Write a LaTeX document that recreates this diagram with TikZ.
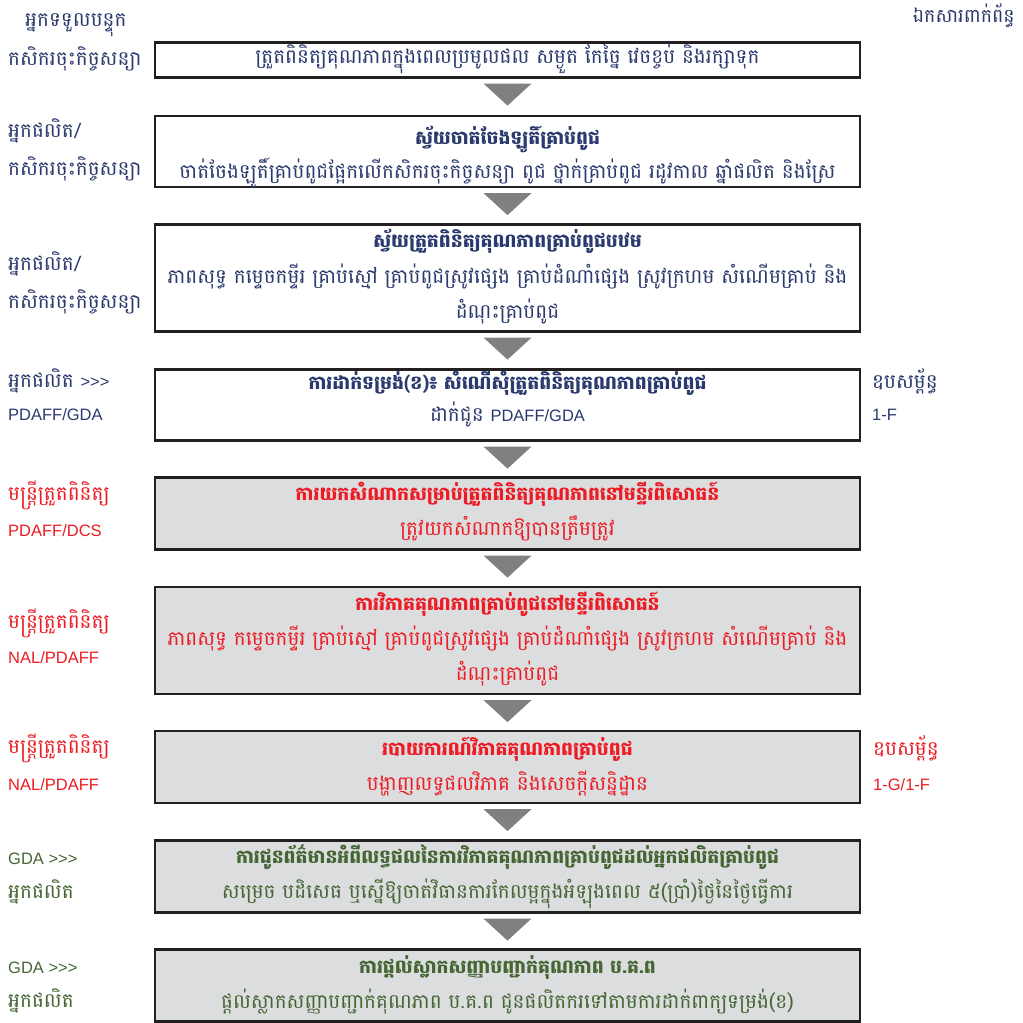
\documentclass[tikz,border=0pt]{standalone}
\usepackage{fontspec}
\setmainfont{Liberation Sans}
\newfontfamily\kh[Script=Khmer]{Battambang}
\newfontfamily\lat{Liberation Sans}
\usetikzlibrary{calc}
\definecolor{navy}{HTML}{2B3A6E}
\definecolor{redtxt}{HTML}{ED1C24}
\definecolor{greentxt}{HTML}{456633}
\definecolor{boxgray}{HTML}{DCDDDF}
\definecolor{boxline}{HTML}{231F20}
\definecolor{arrowgray}{HTML}{808080}
\tikzset{
  stepbox/.style={draw=boxline, line width=2.2pt, minimum width=705pt, inner sep=0pt},
  grayfill/.style={fill=boxgray},
  khtxt/.style={anchor=base, inner sep=0pt, font=\kh\fontsize{20}{24}\selectfont},
  khbold/.style={anchor=base, inner sep=0pt, font=\kh\bfseries\fontsize{18.8}{24}\selectfont},
  lab/.style={anchor=base west, inner sep=0pt, font=\kh\fontsize{20}{24}\selectfont},
  latlab/.style={anchor=base west, inner sep=0pt, font=\lat\fontsize{16.5}{20}\selectfont},
  arrowfill/.style={fill=arrowgray}
}
\newcommand\downarrowbetween[1]{\fill[arrowfill] ($(#1.south)+(-24,5)$) -- ($(#1.south)+(24,5)$) -- ($(#1.south)+(0,27)$) -- cycle;}
\begin{document}
\begin{tikzpicture}[x=1pt,y=-1pt]
\useasboundingbox[fill=white] (0,0) rectangle (1023,1023);
% headers
\node[lab, text=navy] (hl) at (25,26) {អ្នកទទួលបន្ទុក};
\node[anchor=base east, inner sep=0pt, font=\kh\fontsize{19}{24}\selectfont, text=navy] (hr) at (1015,22) {ឯកសារពាក់ព័ន្ធ};
% boxes
\node[stepbox, minimum height=35pt] (b1) at (507.5,60) {};
\node[stepbox, minimum height=71pt] (b2) at (507.5,151.5) {};
\node[stepbox, minimum height=107pt] (b3) at (507.5,278) {};
\node[stepbox, minimum height=71pt] (b4) at (507.5,405) {};
\node[stepbox, grayfill, minimum height=72pt] (b5) at (507.5,513.5) {};
\node[stepbox, grayfill, minimum height=107pt] (b6) at (507.5,640.5) {};
\node[stepbox, grayfill, minimum height=72pt] (b7) at (507.5,767) {};
\node[stepbox, grayfill, minimum height=72pt] (b8) at (507.5,876.5) {};
\node[stepbox, grayfill, minimum height=72pt] (b9) at (507.5,985.5) {};
% arrows
\downarrowbetween{b1}
\downarrowbetween{b2}
\downarrowbetween{b3}
\downarrowbetween{b4}
\downarrowbetween{b5}
\downarrowbetween{b6}
\downarrowbetween{b7}
\downarrowbetween{b8}
% box texts
\node[khtxt, text=navy] (t1) at (507.5,63) {ត្រួតពិនិត្យគុណភាពក្នុងពេលប្រមូលផល សម្ងួត កែច្នៃ វេចខ្ចប់ និងរក្សាទុក};
\node[khbold, text=navy] (t2a) at (507.5,144) {ស្វ័យចាត់ចែងឡូតិ៍គ្រាប់ពូជ};
\node[khtxt, text=navy] (t2b) at (507.5,178) {ចាត់ចែងឡូតិ៍គ្រាប់ពូជផ្អែកលើកសិករចុះកិច្ចសន្យា ពូជ ថ្នាក់គ្រាប់ពូជ រដូវកាល ឆ្នាំផលិត និងស្រែ};
\node[khbold, text=navy] (t3a) at (507.5,247) {ស្វ័យត្រួតពិនិត្យគុណភាពគ្រាប់ពូជបឋម};
\node[khtxt, text=navy] (t3b) at (507.5,283) {ភាពសុទ្ធ កម្ទេចកម្ទីរ គ្រាប់ស្មៅ គ្រាប់ពូជស្រូវផ្សេង គ្រាប់ដំណាំផ្សេង ស្រូវក្រហម សំណើមគ្រាប់ និង};
\node[khtxt, text=navy] (t3c) at (507.5,318) {ដំណុះគ្រាប់ពូជ};
\node[khbold, text=navy] (t4a) at (507.5,389) {ការដាក់ទម្រង់(ខ)៖ សំណើសុំត្រួតពិនិត្យគុណភាពគ្រាប់ពូជ};
\node[khtxt, text=navy] (t4b) at (507.5,421) {ដាក់ជូន {\lat\fontsize{16.5}{20}\selectfont PDAFF/GDA}};
\node[khbold, text=redtxt] (t5a) at (507.5,500) {ការយកសំណាកសម្រាប់ត្រួតពិនិត្យគុណភាពនៅមន្ទីរពិសោធន៍};
\node[khtxt, text=redtxt] (t5b) at (507.5,535) {ត្រូវយកសំណាកឱ្យបានត្រឹមត្រូវ};
\node[khbold, text=redtxt] (t6a) at (507.5,610) {ការវិភាគគុណភាពគ្រាប់ពូជនៅមន្ទីរពិសោធន៍};
\node[khtxt, text=redtxt] (t6b) at (507.5,645) {ភាពសុទ្ធ កម្ទេចកម្ទីរ គ្រាប់ស្មៅ គ្រាប់ពូជស្រូវផ្សេង គ្រាប់ដំណាំផ្សេង ស្រូវក្រហម សំណើមគ្រាប់ និង};
\node[khtxt, text=redtxt] (t6c) at (507.5,680) {ដំណុះគ្រាប់ពូជ};
\node[khbold, text=redtxt] (t7a) at (507.5,755) {របាយការណ៍វិភាគគុណភាពគ្រាប់ពូជ};
\node[khtxt, text=redtxt] (t7b) at (507.5,790) {បង្ហាញលទ្ធផលវិភាគ និងសេចក្ដីសន្និដ្ឋាន};
\node[khbold, text=greentxt] (t8a) at (507.5,863) {ការជូនព័ត៌មានអំពីលទ្ធផលនៃការវិភាគគុណភាពគ្រាប់ពូជដល់អ្នកផលិតគ្រាប់ពូជ};
\node[khtxt, text=greentxt] (t8b) at (507.5,898) {សម្រេច បដិសេធ ឬស្នើឱ្យចាត់វិធានការកែលម្អក្នុងអំឡុងពេល ៥(ប្រាំ)ថ្ងៃនៃថ្ងៃធ្វើការ};
\node[khbold, text=greentxt] (t9a) at (507.5,973) {ការផ្ដល់ស្លាកសញ្ញាបញ្ជាក់គុណភាព ប.គ.ព};
\node[khtxt, text=greentxt] (t9b) at (507.5,1008) {ផ្ដល់ស្លាកសញ្ញាបញ្ជាក់គុណភាព ប.គ.ព ជូនផលិតករទៅតាមការដាក់ពាក្យទម្រង់(ខ)};
% left labels
\node[lab, text=navy] (l1) at (8,65) {កសិករចុះកិច្ចសន្យា};
\node[lab, text=navy] (l2a) at (8,137) {អ្នកផលិត/};
\node[lab, text=navy] (l2b) at (8,175) {កសិករចុះកិច្ចសន្យា};
\node[lab, text=navy] (l3a) at (8,270) {អ្នកផលិត/};
\node[lab, text=navy] (l3b) at (8,308) {កសិករចុះកិច្ចសន្យា};
\node[lab, text=navy] (l4a) at (8,387) {អ្នកផលិត {\lat\fontsize{16.5}{20}\selectfont >>>}};
\node[latlab, text=navy] (l4b) at (8,420) {PDAFF/GDA};
\node[lab, text=redtxt] (l5a) at (8,500) {មន្ត្រីត្រួតពិនិត្យ};
\node[latlab, text=redtxt] (l5b) at (8,536) {PDAFF/DCS};
\node[lab, text=redtxt] (l6a) at (8,628) {មន្ត្រីត្រួតពិនិត្យ};
\node[latlab, text=redtxt] (l6b) at (8,663) {NAL/PDAFF};
\node[lab, text=redtxt] (l7a) at (8,753) {មន្ត្រីត្រួតពិនិត្យ};
\node[latlab, text=redtxt] (l7b) at (8,790) {NAL/PDAFF};
\node[latlab, text=greentxt] (l8a) at (8,864) {GDA >>>};
\node[lab, text=greentxt] (l8b) at (8,898) {អ្នកផលិត};
\node[latlab, text=greentxt] (l9a) at (8,973) {GDA >>>};
\node[lab, text=greentxt] (l9b) at (8,1007) {អ្នកផលិត};
% right labels
\node[lab, text=navy] (r4a) at (872,388) {ឧបសម្ព័ន្ធ};
\node[latlab, text=navy] (r4b) at (872,420) {1-F};
\node[lab, text=redtxt] (r7a) at (873,755) {ឧបសម្ព័ន្ធ};
\node[latlab, text=redtxt] (r7b) at (873,790) {1-G/1-F};
\end{tikzpicture}
\end{document}
